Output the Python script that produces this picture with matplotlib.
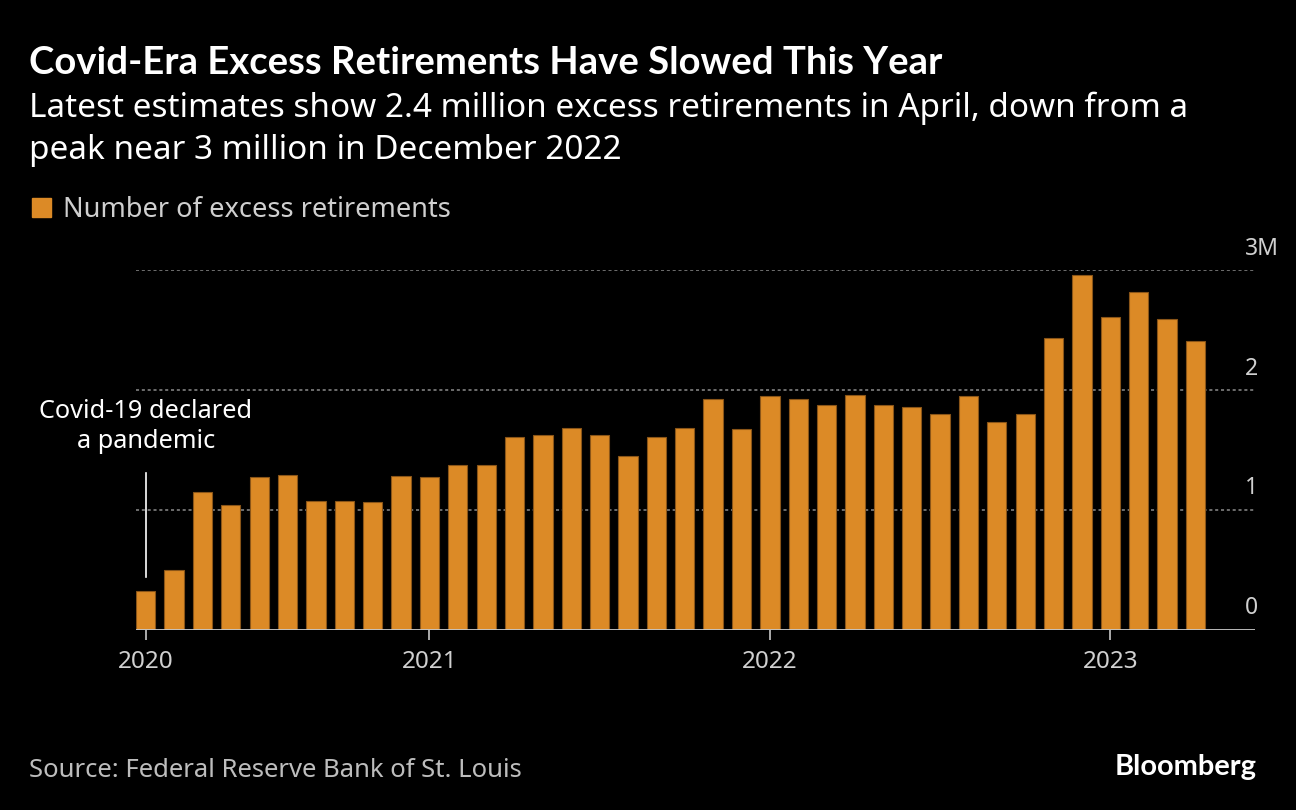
import matplotlib
matplotlib.use("Agg")
import matplotlib.pyplot as plt
from matplotlib.patches import Rectangle

# ---- data (monthly, Mar 2020 .. Apr 2023), millions ----
values = [0.32, 0.50, 1.15, 1.04, 1.27, 1.29, 1.07, 1.07, 1.06, 1.28,
          1.27, 1.37, 1.37, 1.61, 1.62, 1.68, 1.62, 1.45, 1.61, 1.68,
          1.92, 1.67, 1.95, 1.92, 1.875, 1.96, 1.87, 1.86, 1.80, 1.945,
          1.73, 1.80, 2.43, 2.96, 2.61, 2.82, 2.59, 2.41]
xtick_pos = [0, 10, 22, 34]
xtick_labels = ["2020", "2021", "2022", "2023"]
ytick_vals = [0, 1, 2, 3]
ytick_labels = ["0", "1", "2", "3M"]

title = "Covid-Era Excess Retirements Have Slowed This Year"
subtitle1 = "Latest estimates show 2.4 million excess retirements in April, down from a"
subtitle2 = "peak near 3 million in December 2022"
legend_label = "Number of excess retirements"
source = "Source: Federal Reserve Bank of St. Louis"

BAR = "#dc8a26"
EDGE = "#8a5518"
FONT = "Noto Sans"
BOLD = "Lato"

W, H = 1296, 810
fig = plt.figure(figsize=(W / 100, H / 100), dpi=100, facecolor="black")
plt.rcParams["lines.scale_dashes"] = False

ax = fig.add_axes([136 / W, (H - 629.5) / H, 1119 / W, 359.5 / H])
ax.set_facecolor("black")
ax.set_xlim(-0.342, 39.1)
ax.set_ylim(0, 3.0)
for s in ax.spines.values():
    s.set_visible(False)

# gridlines
for v in ytick_vals[1:]:
    ax.axhline(v, color="#6e6e6e", lw=1.4, ls=(0, (2.2, 2.0)), zorder=1)
ax.axhline(0, color="#c8c8c8", lw=1.3, zorder=3)

x = list(range(len(values)))
ax.bar(x, values, width=0.68, color=BAR, edgecolor=EDGE, linewidth=0.8, zorder=2)

ax.set_xticks(xtick_pos)
ax.set_xticklabels(xtick_labels, fontsize=17.5, color="#d0d0d0", family=FONT)
ax.tick_params(axis="x", length=7, width=1.2, color="#c8c8c8", pad=8)
ax.set_yticks([])

for v, lab in zip(ytick_vals, ytick_labels):
    ax.annotate(lab, xy=(0.991, v), xycoords=("axes fraction", "data"),
                xytext=(0, 11), textcoords="offset points",
                ha="left", va="baseline", fontsize=16.5, color="#d0d0d0", family=FONT,
                annotation_clip=False)

# Covid annotation
ax.plot([0, 0], [0.44, 1.31], color="white", lw=1.2, zorder=4)
ax.text(0, 1.765, "Covid-19 declared", ha="center", va="baseline",
        fontsize=18.2, color="white", family=FONT)
ax.text(0, 1.515, "a pandemic", ha="center", va="baseline",
        fontsize=18.2, color="white", family=FONT)

# header
fig.text(29 / W, 1 - 74 / H, title, fontsize=27.5, fontweight="bold", color="white",
         family=BOLD, va="baseline", ha="left")
fig.text(29 / W, 1 - 117 / H, subtitle1, fontsize=23.95, color="white",
         family=FONT, va="baseline", ha="left")
fig.text(29 / W, 1 - 159 / H, subtitle2, fontsize=23.95, color="white",
         family=FONT, va="baseline", ha="left")

# legend
fig.patches.append(Rectangle((32 / W, 1 - 217 / H), 19 / W, 19 / H,
                             transform=fig.transFigure, color=BAR, figure=fig))
fig.text(63 / W, 1 - 217 / H, legend_label, fontsize=19.6, color="#cfcfcf",
         family=FONT, va="baseline", ha="left")

# footer
fig.text(29 / W, 1 - 777 / H, source, fontsize=18.5, color="#bdbdbd",
         family=FONT, va="baseline", ha="left")
fig.text(1257 / W, 1 - 775 / H, "Bloomberg", fontsize=20.9, fontweight="bold",
         color="white", family=BOLD, va="baseline", ha="right")

fig.savefig("out.png", dpi=100, facecolor="black")
